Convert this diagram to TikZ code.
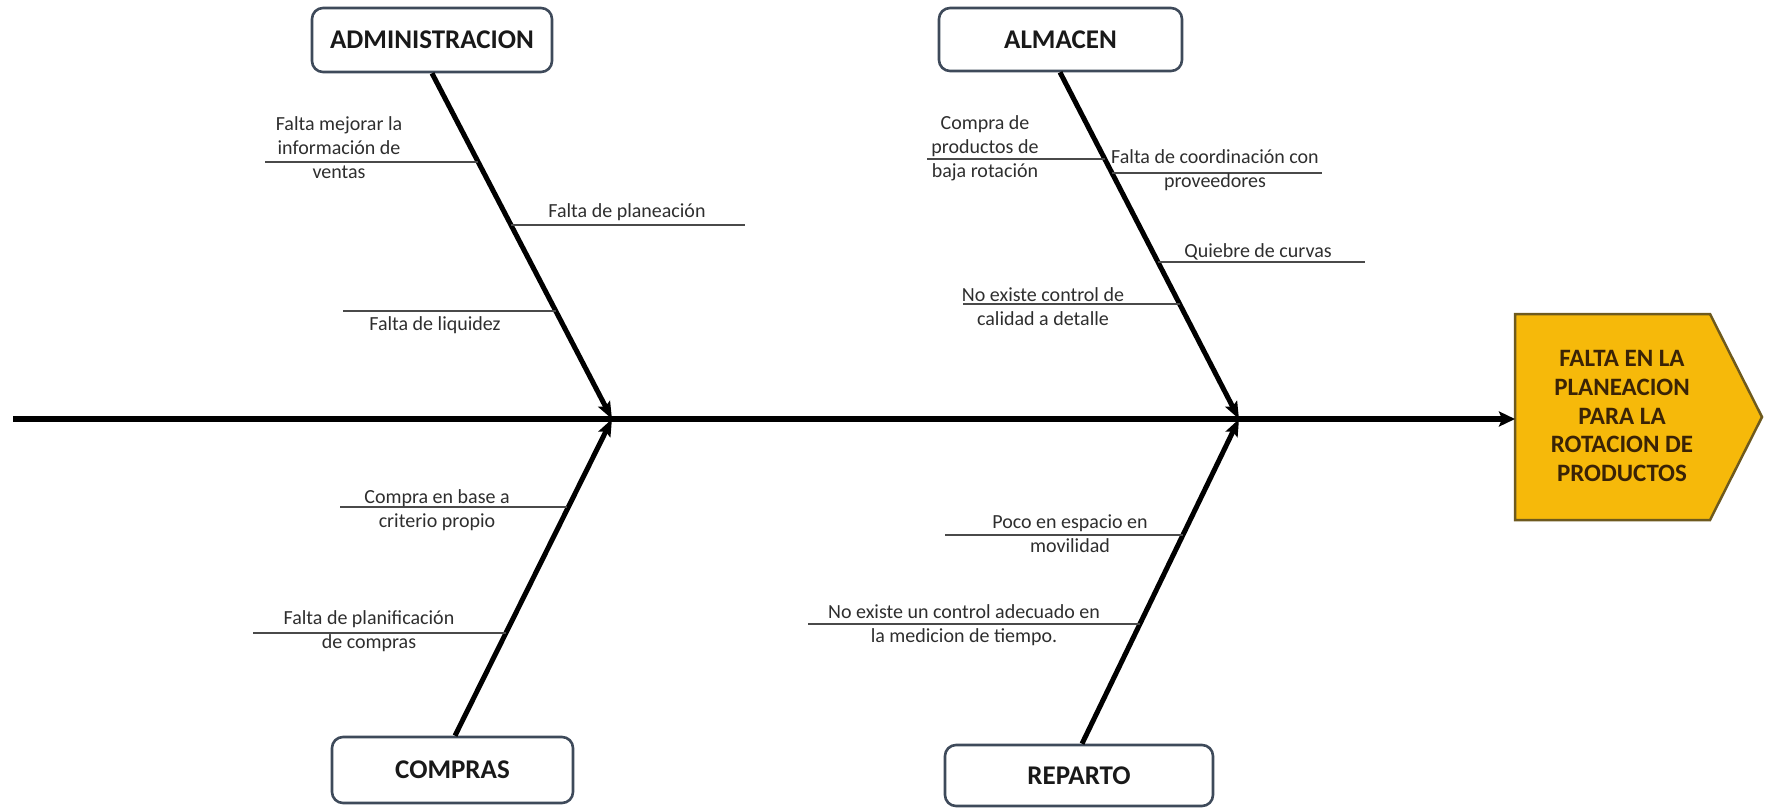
\documentclass[tikz,border=0pt]{standalone}
\usepackage{fontspec}
\setmainfont{Carlito}
\usetikzlibrary{arrows.meta}
\definecolor{boxline}{HTML}{3E4A5A}
\definecolor{headfill}{HTML}{F6B90A}
\definecolor{headline}{HTML}{6E5A1E}
\definecolor{headtxt}{HTML}{3A2306}
\definecolor{txt}{HTML}{2E2E2E}
\definecolor{subline}{HTML}{4A4A4A}
\tikzset{
  catbox/.style={draw=boxline, line width=2.6pt, rounded corners=11pt, fill=white,
    font=\fontsize{27}{30}\selectfont\bfseries, text=black!90, inner sep=0pt},
  ribline/.style={line width=5pt, black, -{Stealth[length=17pt,width=13pt,inset=3pt]}},
  spineline/.style={line width=6pt, black, -{Stealth[length=16pt,width=15pt,inset=3pt]}},
  subrib/.style={line width=1.8pt, subline},
  cause/.style={font=\fontsize{20}{24}\selectfont, text=txt, align=center, inner sep=0pt},
  headshape/.style={fill=headfill, draw=headline, line width=2.5pt},
  headlabel/.style={font=\fontsize{25}{28.7}\selectfont\bfseries, text=headtxt, align=center, inner sep=0pt}
}
\begin{document}
\begin{tikzpicture}[x=1pt,y=-1pt]
\useasboundingbox (0,0) rectangle (1765,809);
% category boxes
\node[catbox, minimum width=240pt, minimum height=64pt] (admin) at (432,40) {ADMINISTRACION};
\node[catbox, minimum width=243pt, minimum height=63pt] (almacen) at (1060.5,39.5) {ALMACEN};
\node[catbox, minimum width=241pt, minimum height=66pt] (compras) at (452.5,770) {COMPRAS};
\node[catbox, minimum width=268pt, minimum height=61pt] (reparto) at (1079,775.5) {REPARTO};
% head
\draw[headshape] (1515,314) -- (1710,314) -- (1762,417) -- (1710,520) -- (1515,520) -- cycle;
\node[headlabel] (head) at (1622,416) {FALTA EN LA\\PLANEACION\\PARA LA\\ROTACION DE\\PRODUCTOS};
% spine
\coordinate (tail) at (13,419);
\coordinate (headin) at (1515,419);
\coordinate (j1) at (612,419);
\coordinate (j2) at (1239,419);
\draw[spineline] (tail) -- (headin);
% ribs
\draw[ribline] (admin.south) -- (j1);
\draw[ribline] (almacen.south -| 1060,0) -- (j2);
\draw[ribline] (compras.north -| 455,0) -- (j1);
\draw[ribline] (reparto.north -| 1082,0) -- (j2);
% ADMINISTRACION causes
\coordinate (a1l) at (265,162); \coordinate (a1r) at (478,162);
\draw[subrib] (a1l) -- (a1r);
\node[cause] (a1) at (339,148) {Falta mejorar la\\información de\\ventas};
\coordinate (a2l) at (511,225); \coordinate (a2r) at (745,225);
\draw[subrib] (a2l) -- (a2r);
\node[cause] (a2) at (627,212) {Falta de planeación};
\coordinate (a3l) at (343,311); \coordinate (a3r) at (556,311);
\draw[subrib] (a3l) -- (a3r);
\node[cause] (a3) at (435,325) {Falta de liquidez};
% ALMACEN causes
\coordinate (b1l) at (927,159); \coordinate (b1r) at (1105,159);
\draw[subrib] (b1l) -- (b1r);
\node[cause] (b1) at (985,148) {Compra de\\productos de\\baja rotación};
\coordinate (b2l) at (1112,173); \coordinate (b2r) at (1322,173);
\draw[subrib] (b2l) -- (b2r);
\node[cause] (b2) at (1215,170) {Falta de coordinación con\\proveedores};
\coordinate (b3l) at (1158,262); \coordinate (b3r) at (1365,262);
\draw[subrib] (b3l) -- (b3r);
\node[cause] (b3) at (1258,252) {Quiebre de curvas};
\coordinate (b4l) at (963,304); \coordinate (b4r) at (1180,304);
\draw[subrib] (b4l) -- (b4r);
\node[cause] (b4) at (1043,306.5) {No existe control de\\calidad a detalle};
% COMPRAS causes
\coordinate (c1l) at (340,507); \coordinate (c1r) at (567,507);
\draw[subrib] (c1l) -- (c1r);
\node[cause] (c1) at (437,510.5) {Compra en base a\\criterio propio};
\coordinate (c2l) at (253,633); \coordinate (c2r) at (506,633);
\draw[subrib] (c2l) -- (c2r);
\node[cause] (c2) at (369,631) {Falta de planificación\\de compras};
% REPARTO causes
\coordinate (d1l) at (945,535); \coordinate (d1r) at (1183,535);
\draw[subrib] (d1l) -- (d1r);
\node[cause] (d1) at (1070,533.5) {Poco en espacio en\\movilidad};
\coordinate (d2l) at (808,624); \coordinate (d2r) at (1140,624);
\draw[subrib] (d2l) -- (d2r);
\node[cause] (d2) at (964,625.5) {No existe un control adecuado en\\la medicion de tiempo.};
\end{tikzpicture}
\end{document}
